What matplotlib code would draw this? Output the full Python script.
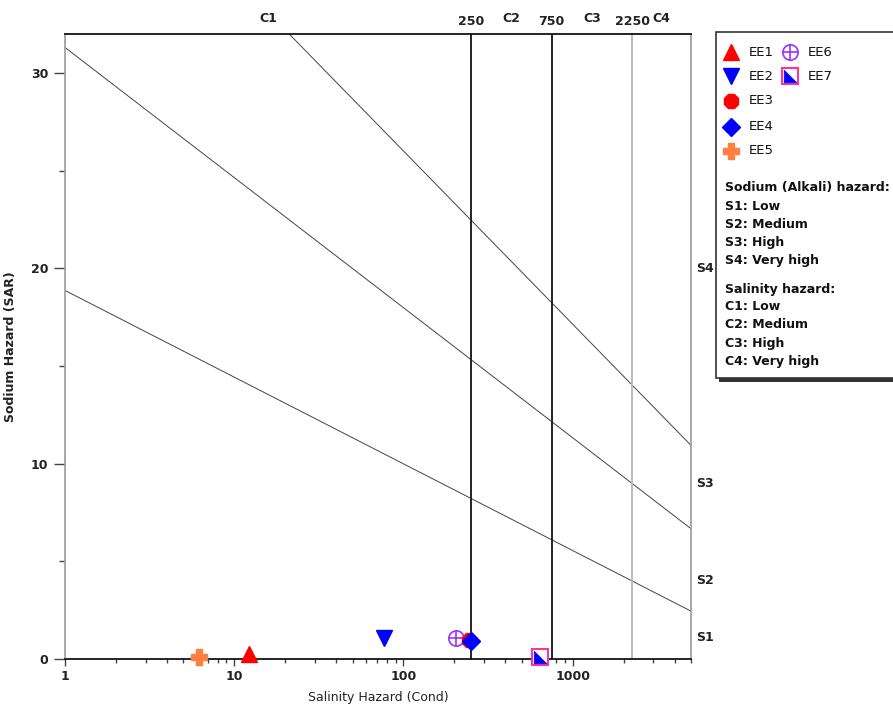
import matplotlib
matplotlib.use("Agg")
import matplotlib.pyplot as plt
from matplotlib.patches import Rectangle
from matplotlib.ticker import FixedLocator, NullFormatter

plt.rcParams['font.family'] = ['DejaVu Sans']

# ---- data ----
samples = ["EE1", "EE2", "EE3", "EE4", "EE5", "EE6", "EE7"]
cond = [12.3, 77, 245, 250, 6.2, 205, 640]
sar = [0.25, 1.05, 0.95, 0.9, 0.1, 1.05, 0.12]

# sodium hazard boundary lines: SAR at Cond = 1 and Cond = 5000
boundary_cond = [1, 5000]
boundary_s1_s2 = [18.87, 2.45]
boundary_s2_s3 = [31.31, 6.67]
boundary_s3_s4 = [43.75, 10.94]

salinity_limits = [250, 750, 2250]
salinity_limit_labels = ["250", "750", "2250"]
salinity_classes = ["C1", "C2", "C3", "C4"]
salinity_class_pos = [15.8, 433, 1299, 3354]
sodium_classes = ["S1", "S2", "S3", "S4"]
sodium_class_pos = [1.1, 4.0, 9.0, 20.0]

x_ticks = [1, 10, 100, 1000]
x_ticklabels = ["1", "10", "100", "1000"]
y_ticks = [0, 10, 20, 30]

sodium_legend = ["Sodium (Alkali) hazard:", "S1: Low", "S2: Medium", "S3: High", "S4: Very high"]
salinity_legend = ["Salinity hazard:", "C1: Low", "C2: Medium", "C3: High", "C4: Very high"]

# ---- figure ----
W, H = 893, 707
fig = plt.figure(figsize=(W / 100, H / 100), dpi=100)
ax = fig.add_axes([65 / W, 1 - 659 / H, (691 - 65) / W, (659 - 34) / H])
ax.set_xscale('log')
ax.set_xlim(1, 5000)
ax.set_ylim(0, 32)

for yy in (boundary_s1_s2, boundary_s2_s3, boundary_s3_s4):
    ax.plot(boundary_cond, yy, color='#444444', lw=0.7, zorder=2)

vcolors = ['#222222', '#222222', '#bbbbbb']
for xv, c in zip(salinity_limits, vcolors):
    ax.axvline(xv, color=c, lw=1.4, zorder=2)

styles = {
    "EE1": dict(marker='^', color='#ff0000', ms=12),
    "EE2": dict(marker='v', color='#0000ff', ms=12),
    "EE3": dict(marker='8', color='#ff0000', ms=11),
    "EE4": dict(marker='D', color='#0000ff', ms=9),
    "EE5": dict(marker='P', color='#ff7f3f', ms=11),
}
tri_path = [(-1, -1), (1, -1), (-1, 1), (-1, -1)]


def draw_marker(axis, name, x, y, clip=False, z=4):
    if name in styles:
        s = styles[name]
        axis.plot([x], [y], linestyle='none', marker=s['marker'], ms=s['ms'],
                  mfc=s['color'], mec=s['color'], mew=1, clip_on=clip, zorder=z)
    elif name == "EE6":
        axis.plot([x], [y], linestyle='none', marker='o', ms=11, mfc='white',
                  mec='#9b30ff', mew=1.2, clip_on=clip, zorder=z)
        axis.plot([x], [y], linestyle='none', marker='+', ms=11,
                  mec='#9b30ff', mew=1.2, clip_on=clip, zorder=z)
    elif name == "EE7":
        axis.plot([x], [y], linestyle='none', marker='s', ms=11, mfc='white',
                  mec='#ff3399', mew=1.5, clip_on=clip, zorder=z)
        axis.plot([x], [y], linestyle='none', marker=tri_path, ms=9,
                  mfc='#0000ff', mec='#0000ff', mew=0.5, clip_on=clip, zorder=z + 0.1)


order = ["EE6", "EE3", "EE4", "EE1", "EE2", "EE5", "EE7"]
for n in order:
    i = samples.index(n)
    draw_marker(ax, n, cond[i], sar[i])

ax.spines['top'].set_color('black')
ax.spines['bottom'].set_color('black')
ax.spines['left'].set_color('#999999')
ax.spines['right'].set_color('#999999')
for sp in ax.spines.values():
    sp.set_linewidth(1.2)

ax.xaxis.set_major_locator(FixedLocator(x_ticks))
ax.set_xticklabels(x_ticklabels, fontsize=9, fontweight='bold', color='#222222')
ax.xaxis.set_minor_locator(FixedLocator([m * 10 ** d for d in range(0, 4) for m in range(2, 10)]))
ax.xaxis.set_minor_formatter(NullFormatter())
ax.tick_params(axis='x', which='major', length=5, width=1, color='#444444', pad=3)
ax.tick_params(axis='x', which='minor', length=3, width=1, color='#444444')

ax.set_yticks(y_ticks)
ax.set_yticklabels([str(v) for v in y_ticks], fontsize=9, fontweight='bold', color='#222222')
ax.yaxis.set_minor_locator(FixedLocator([5, 15, 25]))
ax.tick_params(axis='y', which='major', length=8, width=1, color='#444444', pad=4)
ax.tick_params(axis='y', which='minor', length=4, width=1, color='#444444')

ax.set_xlabel("Salinity Hazard (Cond)", fontsize=9, color='#222222', labelpad=6)
ax.set_ylabel("Sodium Hazard (SAR)", fontsize=9, fontweight='bold', color='#222222')
ax.yaxis.set_label_coords(-0.077, 0.5)

trans_top = ax.get_xaxis_transform()
for lab, xv in zip(salinity_limit_labels, salinity_limits):
    ax.text(xv, 1.01, lab, transform=trans_top, ha='center', va='bottom',
            fontsize=9, fontweight='bold', color='#222222')
for lab, xv in zip(salinity_classes, salinity_class_pos):
    ax.text(xv, 1.015, lab, transform=trans_top, ha='center', va='bottom',
            fontsize=9, fontweight='bold', color='#222222')

trans_right = ax.get_yaxis_transform()
for lab, yv in zip(sodium_classes, sodium_class_pos):
    ax.text(1.008, yv, lab, transform=trans_right, ha='left', va='center',
            fontsize=9, fontweight='bold', color='#222222')

# ---- legend box (pixel coords overlay) ----
legend_ax = fig.add_axes([0, 0, 1, 1], facecolor='none', zorder=3)
legend_ax.set_xlim(0, W)
legend_ax.set_ylim(H, 0)
legend_ax.axis('off')

legend_ax.add_patch(Rectangle((719, 35), 200, 347, facecolor='#333333',
                              edgecolor='none', zorder=1, clip_on=False))
legend_ax.add_patch(Rectangle((716, 32), 200, 346, facecolor='white',
                              edgecolor='#333333', lw=1.2, zorder=2, clip_on=False))

legend_layout = {
    "EE1": (731, 52), "EE2": (731, 76), "EE3": (731, 101), "EE4": (731, 127),
    "EE5": (731, 151), "EE6": (790, 52), "EE7": (790, 76),
}
for n in samples:
    px, py = legend_layout[n]
    draw_marker(legend_ax, n, px, py, z=5)
    legend_ax.text(px + 18, py, n, ha='left', va='center', fontsize=9.5, color='#111111', zorder=6)

for k, t in enumerate(sodium_legend):
    legend_ax.text(725, 188 + 18.2 * k, t, ha='left', va='center', fontsize=9,
                   color='#111111', fontweight='bold', zorder=6)
for k, t in enumerate(salinity_legend):
    legend_ax.text(725, 289 + 18 * k, t, ha='left', va='center', fontsize=9,
                   color='#111111', fontweight='bold', zorder=6)

fig.savefig("out.png", dpi=100)
